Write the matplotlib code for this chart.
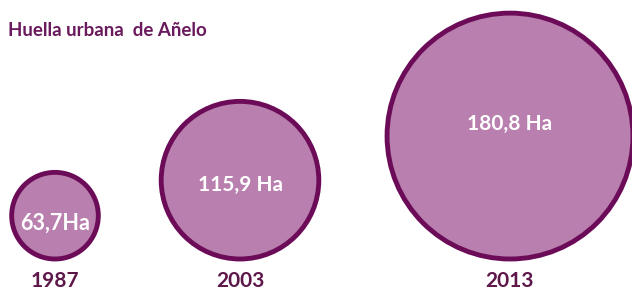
import matplotlib
matplotlib.use("Agg")
import matplotlib.pyplot as plt
from matplotlib.patches import Circle

# data
years = ["1987", "2003", "2013"]
area_ha = [63.7, 115.9, 180.8]
area_labels = ["63,7Ha", "115,9 Ha", "180,8 Ha"]

# layout (pixel coordinates of the 632x291 canvas)
center_x = [55, 240, 510]
baseline_y = 259
px_per_ha = 0.68
label_sizes = [15.5, 15, 15]
label_dy = [8, 5, -12]

fill_color = "#b97fae"
edge_color = "#6c0b58"
text_color = "#5e1749"

plt.rcParams["font.family"] = ["Lato", "DejaVu Sans"]

fig = plt.figure(figsize=(6.32, 2.91), dpi=100)
ax = fig.add_axes([0, 0, 1, 1])
ax.set_xlim(0, 632)
ax.set_ylim(291, 0)
ax.set_aspect("equal")
ax.axis("off")

for x, value, label, year, fs, dy in zip(center_x, area_ha, area_labels, years,
                                         label_sizes, label_dy):
    r = value * px_per_ha
    cy = baseline_y - r
    ax.add_patch(Circle((x, cy), r, facecolor=fill_color, edgecolor=edge_color,
                        linewidth=3.5, clip_on=False))
    ax.text(x, cy + dy, label, color="white", fontsize=fs, fontweight="bold",
            ha="center", va="center")
    ax.text(x, 281, year, color=text_color, fontsize=15, fontweight="bold",
            ha="center", va="center")

ax.text(8, 31, "Huella urbana  de Añelo", color="#6a1a5c", fontsize=13.5,
        fontweight="bold", ha="left", va="center")

fig.savefig("out.png", dpi=100)
